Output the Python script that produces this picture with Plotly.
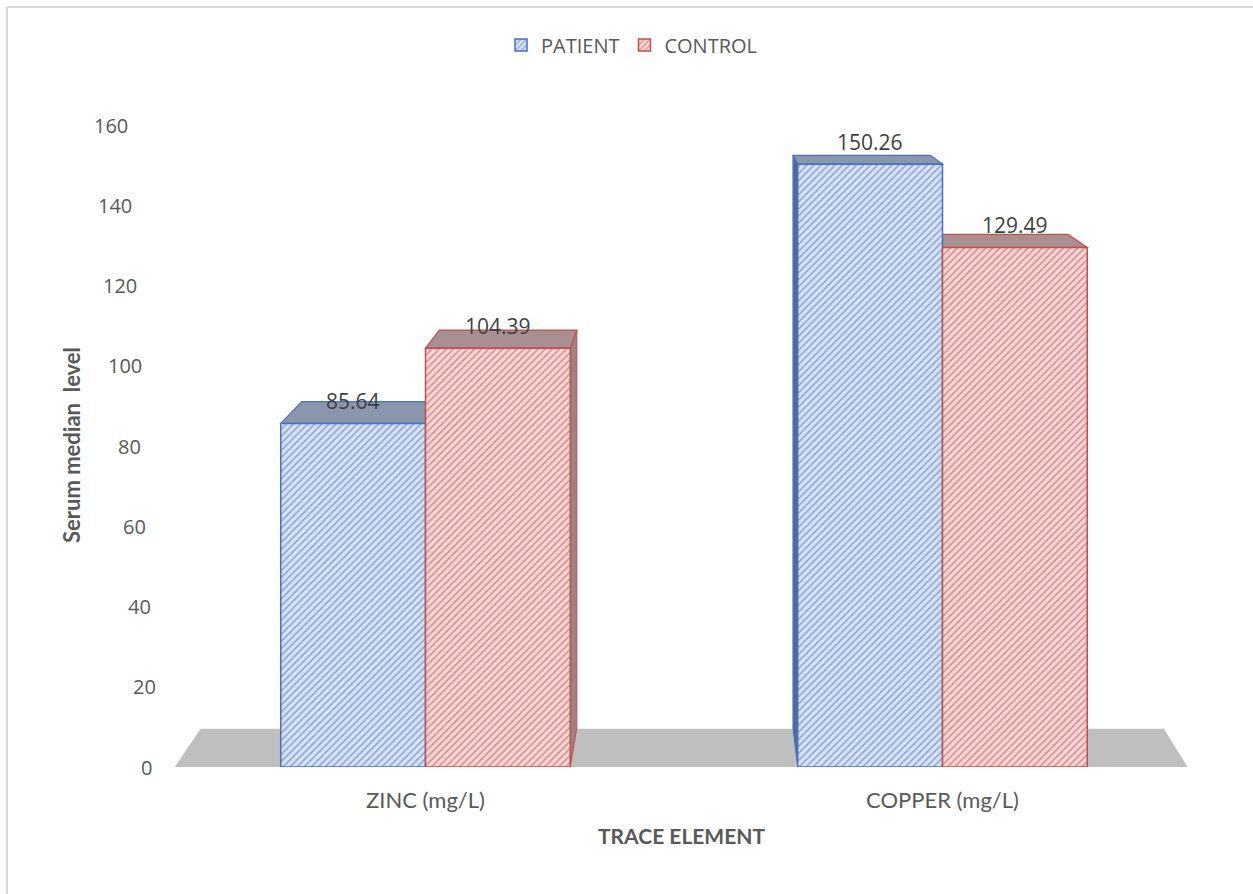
import plotly.graph_objects as go

# ---- data ----
categories = ["ZINC (mg/L)", "COPPER (mg/L)"]
patient = [85.64, 150.26]
control = [104.39, 129.49]
series_names = ["PATIENT", "CONTROL"]
y_ticks = [0, 20, 40, 60, 80, 100, 120, 140, 160]

# ---- geometry / style constants ----
BAR_W = 0.28
VP = (0.535, 194.4)       # vanishing point (data units) for the pseudo-3D depth
DEPTH = 0.05              # depth of bar tops / sides toward the vanishing point
FLOOR_DEPTH = 0.049
FLOOR_X = (-0.485, 1.474)

TXT = "#595959"
BLUE, BLUE_BG = "#4472c4", "#dae3f3"
RED, RED_BG = "#c0504d", "#f4d8d7"
TOP_COL = {"PATIENT": "#8a96ab", "CONTROL": "#a98f90"}
SIDE_COL = {"PATIENT": "#566b93", "CONTROL": "#a08283"}
EDGE_COL = {"PATIENT": BLUE, "CONTROL": RED}

M_L, M_R, M_T, M_B = 167, 52, 105, 127
W, H = 1253, 894
Y_MAX = 165
PW, PH = W - M_L - M_R, H - M_T - M_B


def px_x(p):
    return (p - M_L) / PW


def px_y(p):
    return (H - M_B - p) / PH


def back(x, y, f=DEPTH):
    return x + f * (VP[0] - x), y + f * (VP[1] - y)


def path(pts):
    return "M " + " L ".join(f"{x},{y}" for x, y in pts) + " Z"


fig = go.Figure()
shapes = []

# floor
fx0, fx1 = FLOOR_X
bl = back(fx0, 0, FLOOR_DEPTH)
br = back(fx1, 0, FLOOR_DEPTH)
shapes.append(dict(type="path", xref="x", yref="y", layer="below",
                   path=path([(fx0, 0), (fx1, 0), br, bl]),
                   fillcolor="#bfbfbf", line=dict(width=0)))

series = [("PATIENT", patient, -BAR_W / 2, BLUE, BLUE_BG),
          ("CONTROL", control, BAR_W / 2, RED, RED_BG)]

# top and side faces of each bar
for name, vals, off, col, bg in series:
    for i, v in enumerate(vals):
        xc = i + off
        x0, x1 = xc - BAR_W / 2, xc + BAR_W / 2
        xs = x1 if x1 < VP[0] else x0
        side = [(xs, 0), (xs, v), back(xs, v), back(xs, 0)]
        shapes.append(dict(type="path", xref="x", yref="y", layer="below",
                           path=path(side), fillcolor=SIDE_COL[name],
                           line=dict(color=EDGE_COL[name], width=1)))
        top = [(x0, v), (x1, v), back(x1, v), back(x0, v)]
        shapes.append(dict(type="path", xref="x", yref="y", layer="below",
                           path=path(top), fillcolor=TOP_COL[name],
                           line=dict(color=EDGE_COL[name], width=1.2)))

# front faces
annotations = []
for name, vals, off, col, bg in series:
    xs = [i + off for i in range(len(vals))]
    fig.add_trace(go.Bar(
        x=xs, y=vals, width=BAR_W, name=name,
        marker=dict(color=bg, line=dict(color=col, width=1.5),
                    pattern=dict(shape="/", fgcolor=col, bgcolor=bg,
                                 size=5, solidity=0.35, fillmode="overlay")),
        hoverinfo="skip",
    ))
    for x, v in zip(xs, vals):
        annotations.append(dict(x=x, y=v, xref="x", yref="y", text=f"{v:.2f}",
                                showarrow=False, yshift=22,
                                xanchor="center", yanchor="middle",
                                font=dict(family="Open Sans", size=21, color="#404040")))

# y tick labels, slightly slanted like the 3D wall
for t in y_ticks:
    annotations.append(dict(x=-0.5, y=t, xref="x", yref="y", text=str(t),
                            showarrow=False, xanchor="center", yanchor="middle",
                            xshift=-18 - 0.24 * t if t else -21,
                            font=dict(family="Open Sans", size=20, color=TXT)))

# axis titles
annotations.append(dict(text="<b>Serum median  level</b>", textangle=-90,
                        xref="paper", yref="paper", x=px_x(72), y=px_y(445),
                        xanchor="center", yanchor="middle",
                        showarrow=False, font=dict(family="Lato", size=22, color=TXT)))
annotations.append(dict(text="<b>TRACE ELEMENT</b>", xref="paper", yref="paper",
                        x=px_x(681), y=px_y(835), xanchor="center", yanchor="middle",
                        showarrow=False, font=dict(family="Lato", size=21, color=TXT)))

# chart frame edges
shapes.append(dict(type="line", xref="paper", yref="paper",
                   x0=px_x(7), x1=px_x(7), y0=px_y(7), y1=px_y(900),
                   line=dict(color="#d9d9d9", width=2)))
shapes.append(dict(type="line", xref="paper", yref="paper",
                   x0=px_x(7), x1=px_x(1260), y0=px_y(7), y1=px_y(7),
                   line=dict(color="#d9d9d9", width=2)))

fig.update_layout(
    width=W, height=H,
    margin=dict(l=M_L, r=M_R, t=M_T, b=M_B),
    paper_bgcolor="white", plot_bgcolor="white",
    barmode="overlay",
    showlegend=True,
    legend=dict(orientation="h", x=px_x(632), xanchor="center",
                y=px_y(45), yanchor="middle",
                font=dict(family="Open Sans", size=20, color=TXT),
                itemwidth=30, traceorder="normal"),
    xaxis=dict(range=[-0.5, 1.5], tickvals=[0, 1], ticktext=categories,
               showgrid=False, zeroline=False, showline=False, ticks="",
               ticklabelstandoff=18,
               tickfont=dict(family="Lato", size=22, color=TXT)),
    yaxis=dict(range=[0, Y_MAX], showgrid=False, zeroline=False, showline=False,
               showticklabels=False, ticks=""),
    shapes=shapes,
    annotations=annotations,
)

fig.write_html("out.html")
